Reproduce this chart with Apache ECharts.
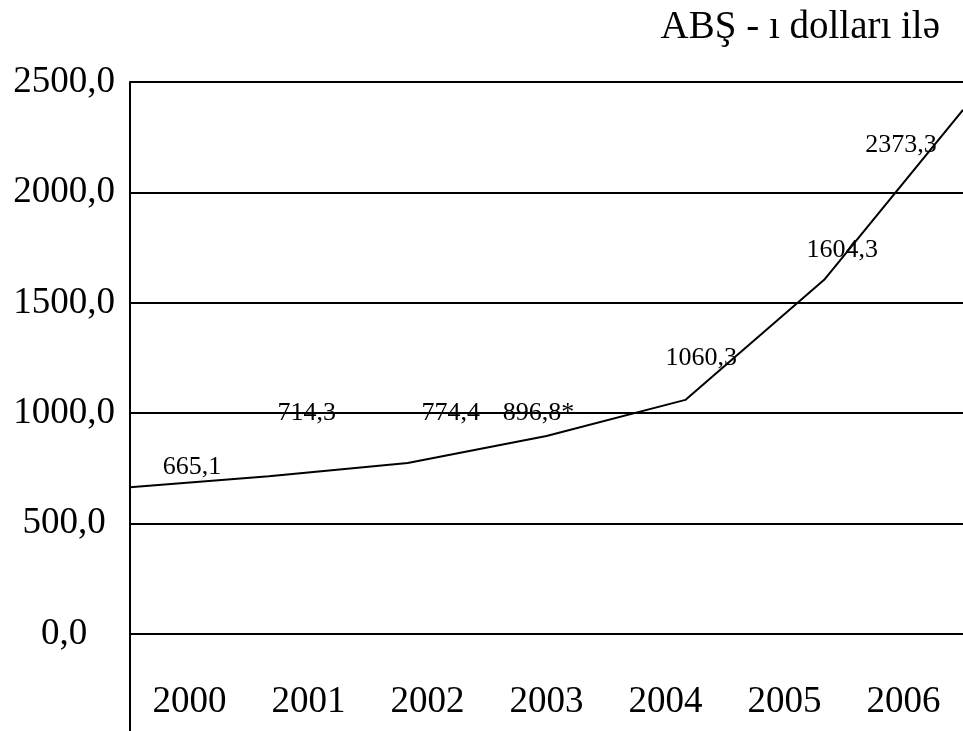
<!DOCTYPE html>
<html>
<head>
<meta charset="utf-8">
<script src="https://cdn.jsdelivr.net/npm/echarts@6/dist/echarts.min.js"></script>
<style>html,body{margin:0;padding:0;background:#fff}#c{width:963px;height:731px}</style>
</head>
<body>
<div id="c"></div>
<script>
const years = ['2000','2001','2002','2003','2004','2005','2006'];
const values = [665.1, 714.3, 774.4, 896.8, 1060.3, 1604.3, 2373.3];
const valueLabels = ['665,1','714,3','774,4','896,8*','1060,3','1604,3','2373,3'];
const unitText = 'ABŞ - ı dolları ilə';
// label offsets (styling only)
const labelOffsets = [[62,-20],[38,-63],[43,-50],[-8,-23],[16,-42],[18,-30],[-62,35]];

const font = 'Liberation Serif';
const chart = echarts.init(document.getElementById('c'));
chart.setOption({
  animation: false,
  backgroundColor: '#fff',
  title: {
    text: unitText, right: 18, top: 3,
    textStyle: {fontFamily: font, fontSize: 39, fontWeight: 'normal', color: '#000'}
  },
  grid: [
    {left: 130, right: 0, top: 82, bottom: 97},
    {left: 130, right: 0, top: 634, bottom: 0}
  ],
  xAxis: [
    {type: 'category', gridIndex: 0, data: years, boundaryGap: true,
     axisLine: {show: false}, axisTick: {show: false},
     axisLabel: {fontFamily: font, fontSize: 37, color: '#000', margin: 68, verticalAlign: 'middle'}},
    {type: 'category', gridIndex: 0, data: years, boundaryGap: false, show: false},
    {type: 'value', gridIndex: 1, show: false, min: 0, max: 1}
  ],
  yAxis: [
    {type: 'value', gridIndex: 0, min: 0, max: 2500, interval: 500,
     axisLine: {show: true, lineStyle: {color: '#000', width: 2}},
     axisTick: {show: false},
     splitLine: {show: true, lineStyle: {color: '#000', width: 2}},
     axisLabel: {fontFamily: font, fontSize: 37, color: '#000', align: 'center', margin: 66,
       formatter: v => v.toFixed(1).replace('.', ',')}},
    {type: 'value', gridIndex: 1, min: 0, max: 1,
     axisLine: {show: true, lineStyle: {color: '#000', width: 2}},
     axisTick: {show: false}, axisLabel: {show: false}, splitLine: {show: false}}
  ],
  series: [{
    type: 'line', xAxisIndex: 1, yAxisIndex: 0,
    data: values.map((v, i) => ({
      value: v,
      label: {offset: labelOffsets[i], formatter: valueLabels[i]}
    })),
    symbol: 'circle', symbolSize: 1,
    itemStyle: {color: '#000'},
    lineStyle: {color: '#000', width: 2},
    label: {show: true, position: 'inside', fontFamily: font, fontSize: 26, color: '#000'}
  }]
});
</script>
</body>
</html>
